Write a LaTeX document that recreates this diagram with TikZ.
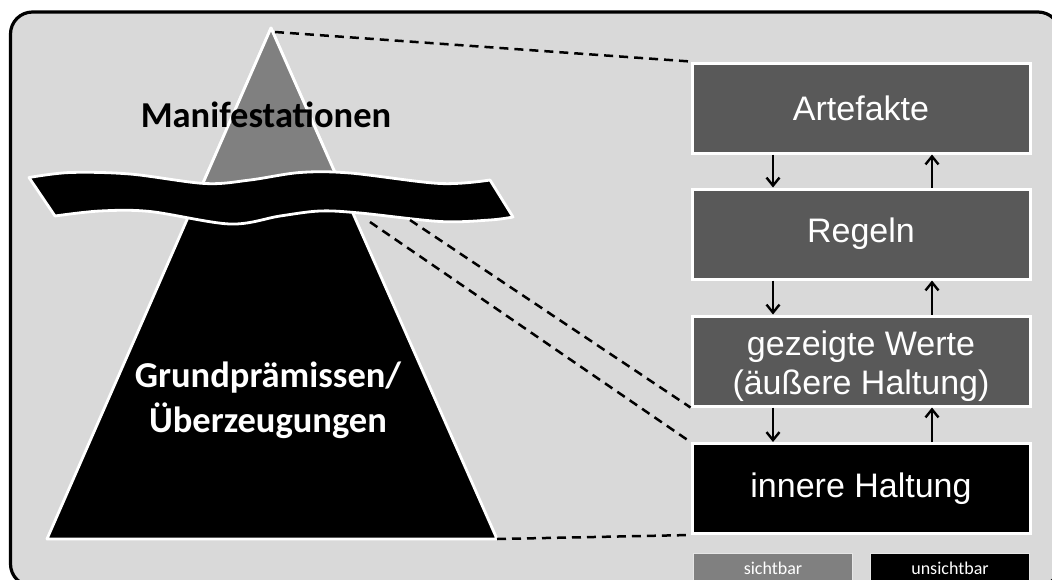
\documentclass[tikz,border=0pt]{standalone}
\usepackage{fontspec}
\setmainfont{Liberation Sans}
\newfontfamily\calib{Carlito}
\usetikzlibrary{arrows.meta}

\definecolor{panelgray}{HTML}{D9D9D9}
\definecolor{tipgray}{HTML}{808080}
\definecolor{boxgray}{HTML}{595959}
\definecolor{legendedge}{HTML}{E6E6E6}

\tikzset{
  layerbox/.style={draw=white, line width=3pt, minimum width=338pt, minimum height=90pt,
    inner sep=0pt, text=white, align=center, font=\fontsize{34}{39}\selectfont},
  layertext/.style={text=white, inner sep=0pt, anchor=base, font=\fontsize{34}{39}\selectfont},
  flow/.style={line width=2.4pt, -{Straight Barb[length=8pt,width=13pt,line width=2.4pt]}},
  link/.style={line width=2.5pt, dash pattern=on 9pt off 6pt},
  legendbox/.style={draw=legendedge, line width=1pt, minimum width=159pt, minimum height=36pt,
    inner sep=0pt, text=white, font=\calib\fontsize{18}{20}\selectfont},
  iceline/.style={draw=white, line width=2.8pt, line join=round},
  biglabel/.style={font=\calib\bfseries\fontsize{36.5}{40}\selectfont, anchor=base}
}

\begin{document}
\begin{tikzpicture}[x=1pt,y=-1pt]
\useasboundingbox (0,0) rectangle (1052,579);
\clip (0,0) rectangle (1052,579);
\fill[white] (0,0) rectangle (1052,579);

% panel
\draw[line width=3.2pt, fill=panelgray, rounded corners=22pt] (10.5,12) rectangle (1060,586);

% iceberg
\coordinate (apex) at (271,28);
\coordinate (bl) at (47,539);
\coordinate (br) at (497,539);
\filldraw[fill=black, iceline] (apex) -- (bl) -- (br) -- cycle;
\begin{scope}
  \clip (0,0) rectangle (1052,196);
  \filldraw[fill=tipgray, iceline] (apex) -- (bl) -- (br) -- cycle;
\end{scope}

% water band
\filldraw[fill=black, iceline]
  plot[smooth, tension=0.55] coordinates {(29,177.5) (70,172.5) (130,174) (205,183.5) (250,180) (300,172.5) (350,173) (440,183.5) (490,180)}
  -- plot[smooth, tension=0.55] coordinates {(513,217) (490,220) (440,221.5) (360,213) (320,211) (280,216) (230,224) (150,211.5) (100,211) (55,216)}
  -- cycle;

\node[biglabel] (manif) at (266,127) {Manifestationen};
\node[biglabel, text=white] (grund) at (268,387) {Grundprämissen/};
\node[biglabel, text=white] (ueber) at (268,432) {Überzeugungen};

% layers
\node[layerbox, fill=boxgray] (art) at (861,108) {Artefakte};
\node[layerbox, fill=boxgray] (reg) at (861,234) {Regeln};
\node[layerbox, fill=boxgray] (wer) at (861,361) {};
\node[layertext] (wer1) at ([yshift=6pt]wer.center) {gezeigte Werte};
\node[layertext] (wer2) at ([yshift=-33pt]wer.center) {(äußere Haltung)};
\node[layerbox, fill=black] (inn) at (861,488.5) {\raisebox{-2pt}{innere Haltung}};

\foreach \a/\b in {art/reg, reg/wer, wer/inn}{
  \draw[flow] ([xshift=-88pt]\a.south) -- ([xshift=-88pt]\b.north);
  \draw[flow] ([xshift=71pt]\b.north) -- ([xshift=71pt]\a.south);
}

% dashed links
\coordinate (wv1) at (410,220);
\coordinate (wv2) at (370,222);
\coordinate (apexlink) at (275,32);
\draw[link] (apexlink) -- (art.north west);
\draw[link] (wv1) -- (wer.south west);
\draw[link] (wv2) -- (inn.north west);
\draw[link] (br) -- (inn.south west);

% legend
\node[legendbox, fill=tipgray, anchor=north west] (vis) at (693,553) {\raisebox{7pt}{sichtbar}};
\node[legendbox, fill=black, anchor=north west] (invis) at (870,553) {\raisebox{7pt}{unsichtbar}};
\end{tikzpicture}
\end{document}
